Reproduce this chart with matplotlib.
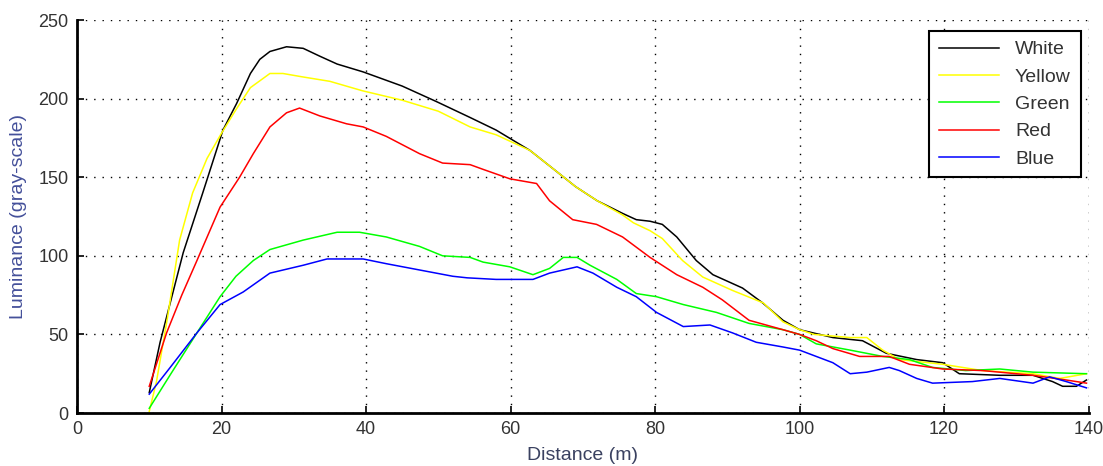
import matplotlib
matplotlib.use("Agg")
import matplotlib.pyplot as plt

# ---- data ----
white_x = [10, 11.5, 12.9, 14.7, 17.4, 20.2, 22.1, 24, 25.3, 26.7, 29, 31.3, 33.6, 36, 39.6, 45, 49.8, 54.4, 58,
           62.7, 66, 69, 72, 75.5, 77.4, 79.3, 81, 83, 85.7, 88, 92.1, 94.9, 97.7, 100, 104.6, 108.7, 112, 116.2,
           119.8, 122.1, 127.7, 132.3, 135, 136.4, 138.3, 139.7]
white_y = [13, 45, 70, 102, 140, 180, 197, 216, 225, 230, 233, 232, 227, 222, 217, 208, 198, 188, 180,
           167, 155, 144, 135, 127, 123, 122, 120, 112, 97, 88, 79.5, 70, 59, 53, 48, 46, 38, 34,
           32, 25, 24, 24, 20, 17, 17, 21]

yellow_x = [10, 11, 12.5, 14.2, 16, 18, 20, 22, 24, 26.7, 28.5, 31, 35, 39.5, 45, 50, 54.4, 58, 62.7, 66, 69, 72,
            75.5, 77, 79.3, 81, 83.8, 86.6, 90.7, 95, 97.7, 100, 102, 107, 109.3, 111.5, 113.8, 119.8, 125.3,
            132.3, 136, 139.7]
yellow_y = [1, 20, 60, 110, 140, 162, 178, 193, 207, 216, 216, 214, 211, 205, 199, 192, 182, 177, 167, 155, 144, 135,
            126, 121, 116, 111, 97, 86.5, 78, 70, 58, 53, 50, 48, 48, 40, 34, 31, 27,
            25, 22, 25]

green_x = [10, 13, 16.6, 19.8, 22, 24.4, 26.7, 31.3, 36, 39.1, 42.8, 47.4, 50.6, 54.4, 56.2, 59.9, 63.1, 65.4, 67.3,
           69.2, 71, 74.7, 77.4, 80.2, 83.9, 88.5, 93, 97.7, 100, 102.3, 107, 111.5, 115.2, 118.4, 123, 127.7,
           132.3, 139.7]
green_y = [3, 25, 51, 74, 87, 97, 104, 110, 115, 115, 112, 106, 100, 99, 96, 93, 88, 92, 99,
           99, 94, 85, 76, 74, 69, 64, 57, 53, 50, 44, 40, 36, 34, 29, 27, 28,
           26, 25]

red_x = [10, 12.4, 14.5, 16.6, 19.8, 22.5, 24.4, 26.7, 29, 30.8, 33.6, 37.3, 39.6, 42.8, 47.4, 50.6, 54.4, 56.2, 59.9,
         63.6, 65.4, 68.6, 71.9, 75.5, 79.3, 83, 86.6, 89.3, 93, 97.7, 100, 102.3, 104.6, 108.3, 112.4, 115.2,
         119.8, 125.3, 132.3, 136.9, 139.7]
red_y = [17, 51, 75, 97, 131, 150, 165, 182, 191, 194, 189, 184, 182, 176, 165, 159, 158, 155, 149,
         146, 135, 123, 120, 112, 99, 88, 80, 72, 59, 53, 50, 46, 41, 36, 36, 31,
         28, 27, 24, 21, 19]

blue_x = [10, 12.9, 16.6, 19.8, 23, 26.7, 31.3, 34.6, 39.6, 42.8, 47.4, 52, 54, 58, 63.1, 65.4, 69.2, 71.4, 74.7,
          77.4, 80.2, 83.9, 87.6, 90.7, 94, 97.7, 100, 104.6, 107, 109.3, 112.4, 113.8, 116.2, 118.4, 123.9,
          127.7, 132.3, 134.6, 136.9, 139.7]
blue_y = [12, 29, 51, 69, 77, 89, 94, 98, 98, 95, 91, 87, 86, 85, 85, 89, 93, 89, 80,
          74, 64, 55, 56, 51, 45, 42, 40, 32, 25, 26, 29, 27, 22, 19, 20,
          22, 19, 23, 20, 16]

series_names = ["White", "Yellow", "Green", "Red", "Blue"]
x_ticks = [0, 20, 40, 60, 80, 100, 120, 140]
y_ticks = [0, 50, 100, 150, 200, 250]

# ---- plot ----
plt.rcParams['font.family'] = ['Liberation Sans', 'DejaVu Sans']
fig = plt.figure(figsize=(11.03, 4.66), dpi=100)
ax = fig.add_axes([0.0698, 0.1137, 0.9172, 0.8433])

colors = ["#000000", "#ffff00", "#00ff00", "#ff0000", "#0000ff"]
data = [(white_x, white_y), (yellow_x, yellow_y), (green_x, green_y), (red_x, red_y), (blue_x, blue_y)]
for (xs, ys), c, name in zip(data, colors, series_names):
    ax.plot(xs, ys, color=c, lw=1.1, label=name)

ax.set_xlim(0, 140)
ax.set_ylim(0, 250)
ax.set_xticks(x_ticks)
ax.set_yticks(y_ticks)
ax.tick_params(direction='in', length=5, width=1.2, labelsize=13, labelcolor='#333333', color='black', pad=6)
ax.grid(True, color='black', linestyle=(0, (1, 5)), linewidth=1.0)
for s in ['top', 'right']:
    ax.spines[s].set_visible(False)
for s in ['left', 'bottom']:
    ax.spines[s].set_linewidth(2)

ax.set_xlabel("Distance (m)", fontsize=14, color='#3a4160', labelpad=6)
ax.set_ylabel("Luminance (gray-scale)", fontsize=14, color='#44509a', labelpad=8)

leg = ax.legend(loc='upper right', bbox_to_anchor=(0.992, 0.972), fontsize=14, frameon=True,
                fancybox=False, handlelength=3.1, labelspacing=0.5, borderpad=0.5, handletextpad=0.8,
                borderaxespad=0)
leg.get_frame().set_edgecolor('black')
leg.get_frame().set_linewidth(1.5)
leg.get_frame().set_alpha(1)
for t in leg.get_texts():
    t.set_color('#333333')

fig.savefig("out.png", dpi=100)
